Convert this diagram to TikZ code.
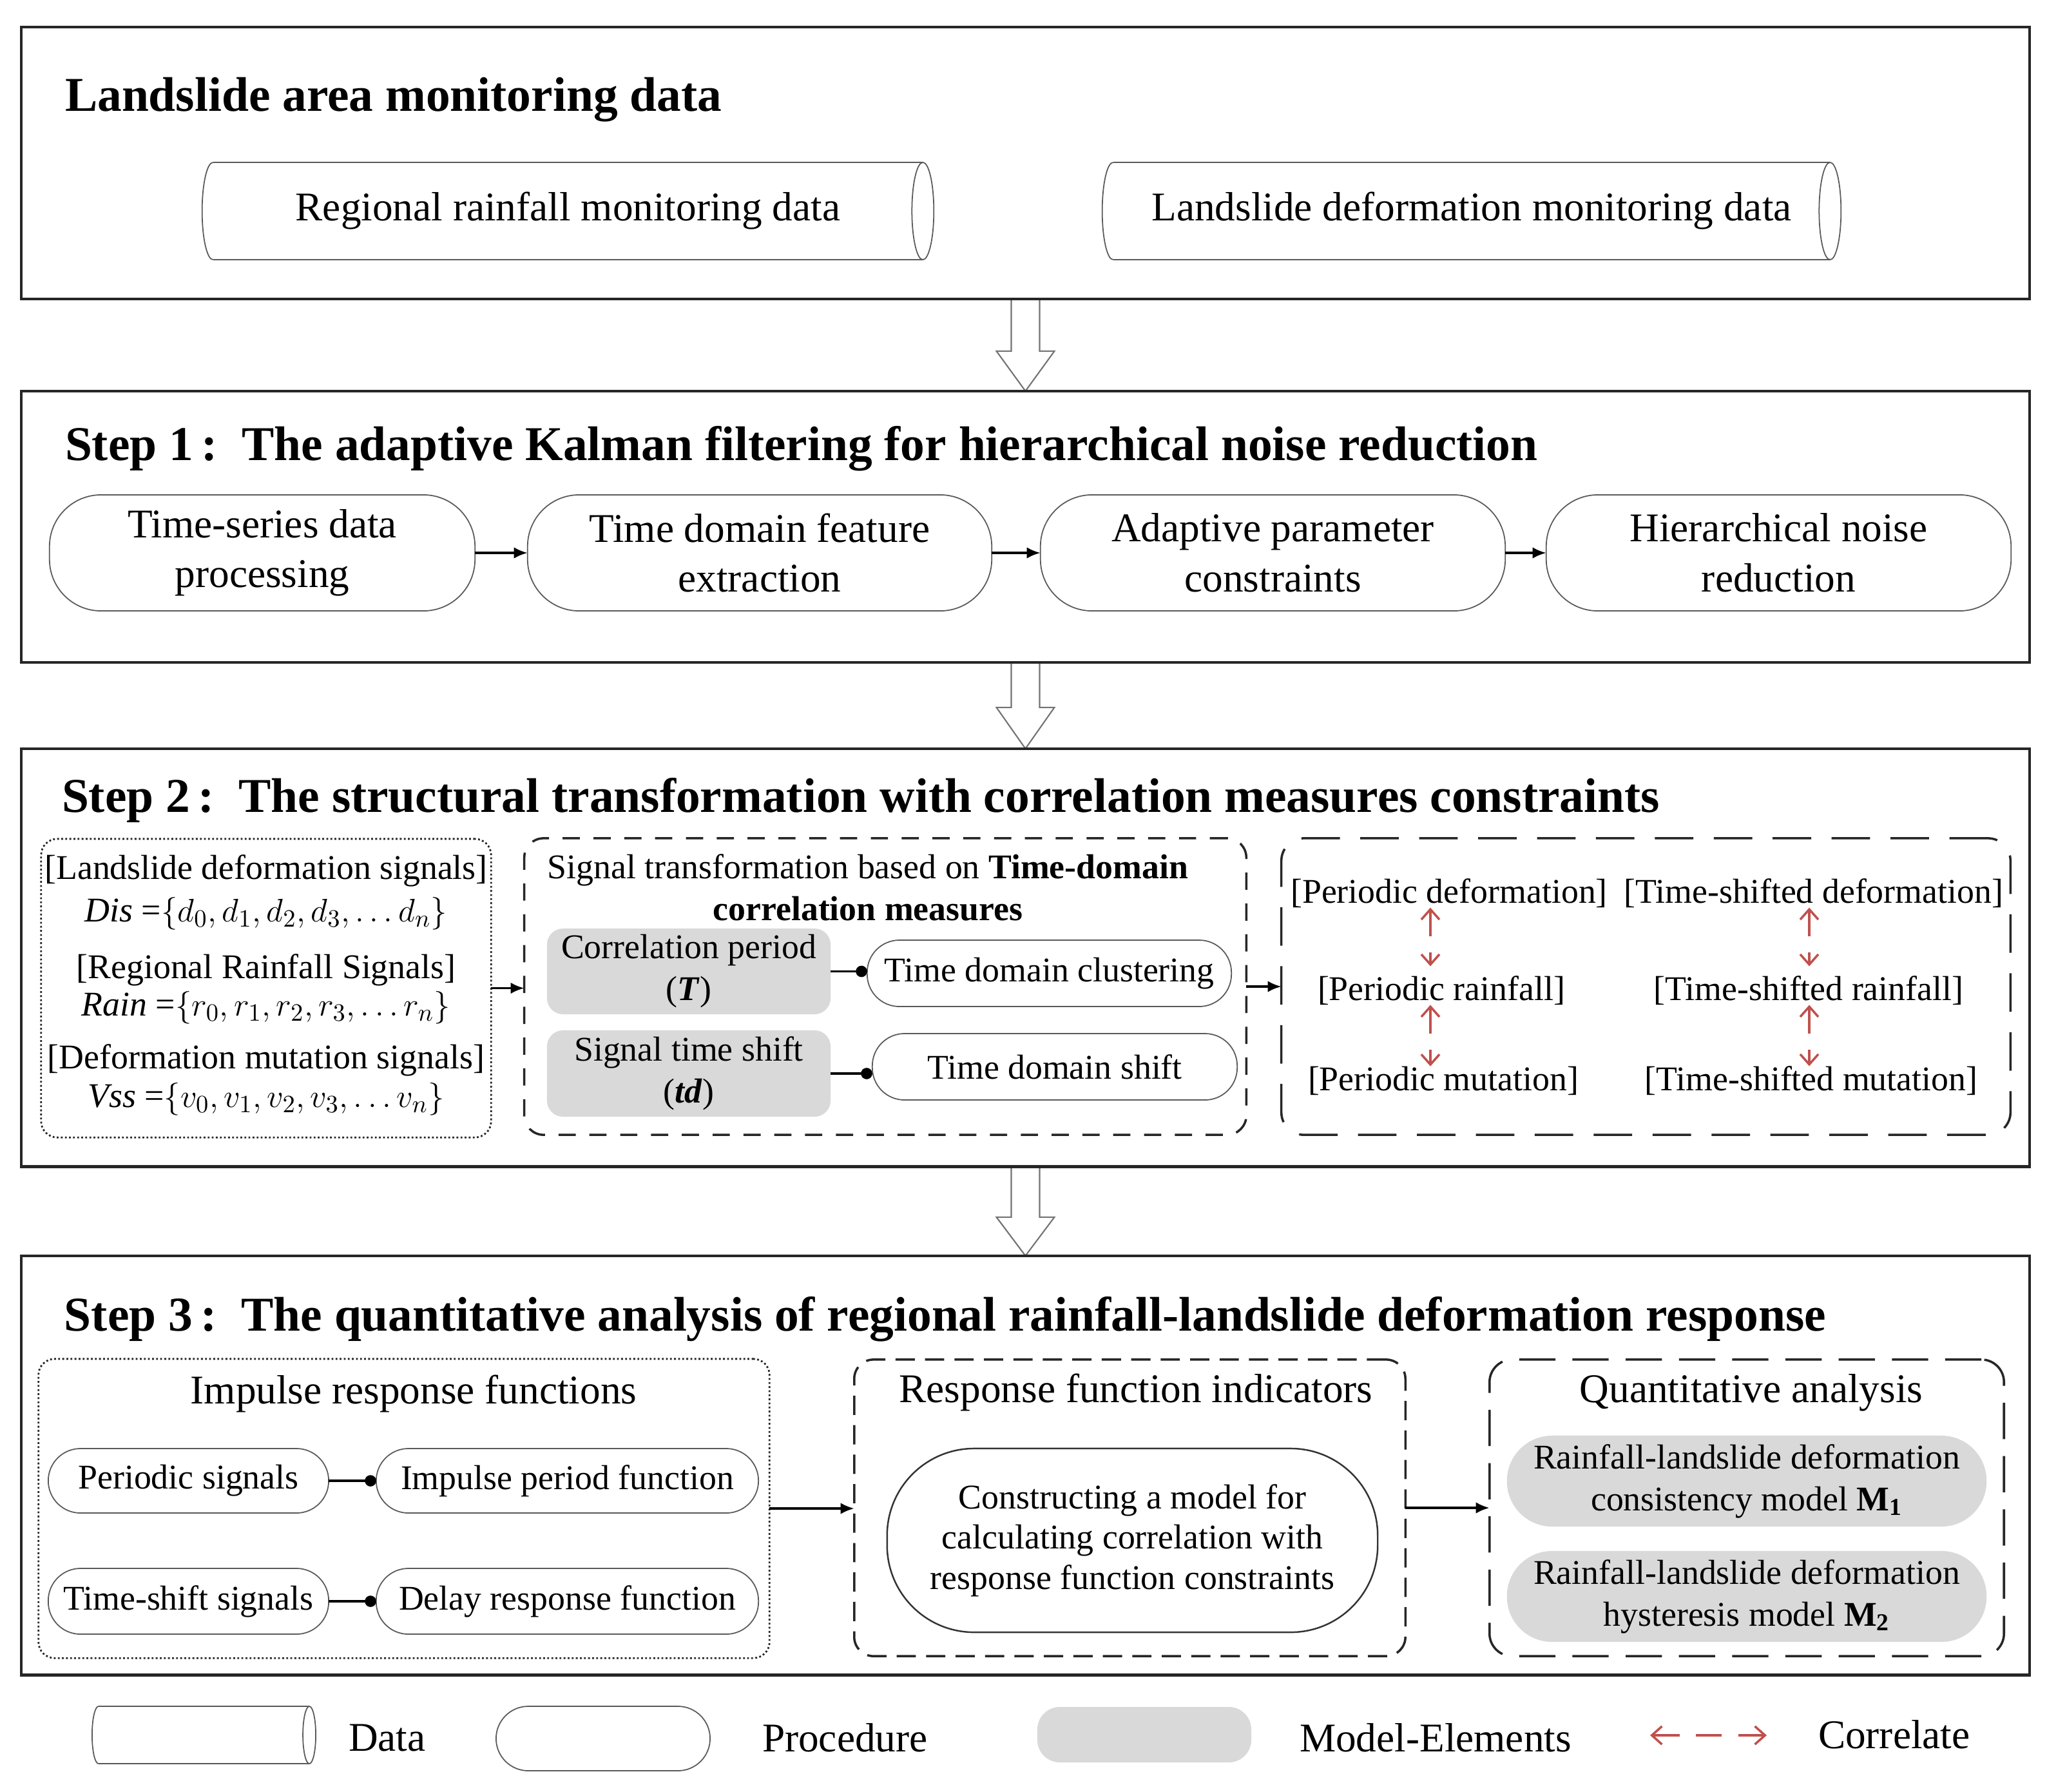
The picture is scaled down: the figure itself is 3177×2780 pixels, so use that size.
\documentclass[tikz,border=0pt]{standalone}
\usepackage{fontspec}
\setmainfont{Liberation Serif}
\usetikzlibrary{arrows.meta,calc}
\definecolor{mgray}{HTML}{D9D9D9}
\definecolor{cred}{HTML}{C0504D}
\pgfdeclarelayer{bg}
\pgfsetlayers{bg,main}
\newcommand\cyldeco[3]{%
  \draw[cyl] ([xshift=#2]#1.north west) -- ([xshift=-#2]#1.north east)
             ([xshift=#2]#1.south west) -- ([xshift=-#2]#1.south east);
  \draw[cyl] ([xshift=#2]#1.north west) arc[start angle=90,end angle=270,x radius=#2,y radius=#3];
  \draw[cyl] ([xshift=-#2]#1.east) ellipse[x radius=#2,y radius=#3];
}
\begin{document}
\begin{tikzpicture}[x=0.01cm,y=-0.01cm,
  every node/.style={inner sep=0pt,outer sep=0pt},
  bigbox/.style={draw=black!85,line width=1.3pt},
  ttl/.style={anchor=west,font=\fontsize{21.45}{25}\selectfont\bfseries},
  txt/.style={font=\fontsize{18}{22}\selectfont,align=center},
  stxt/.style={font=\fontsize{15.3}{18.5}\selectfont,align=center},
  proc/.style={draw=black!65,line width=0.5pt,rounded corners=#1},
  proc/.default=0.5cm,
  model/.style={fill=mgray,rounded corners=#1},
  model/.default=0.25cm,
  dotbox/.style={draw=black!85,line width=0.8pt,dash pattern=on 0.8pt off 1pt,rounded corners=0.25cm},
  dashA/.style={draw=black!85,line width=1pt,dash pattern=on 7.6pt off 6pt,rounded corners=0.3cm},
  dashB/.style={draw=black!85,line width=1pt,dash pattern=on 17pt off 9pt,rounded corners=0.35cm},
  arr/.style={-{Latex[length=6pt,width=5pt]},line width=1pt},
  dotc/.style={-{Circle[length=5pt]},line width=1pt},
  corr/.style={cred,line width=1pt,{Straight Barb[length=4.5pt,width=8pt]}-{Straight Barb[length=4.5pt,width=8pt]}},
  hollow/.style={draw=black!55,line width=0.6pt,fill=white},
  cyl/.style={draw=black!65,line width=0.5pt}
]
\useasboundingbox (0,0) rectangle (3177,2780);

% ---------- big boxes ----------
\node[bigbox,minimum width=31.15cm,minimum height=4.22cm] (box0) at (1591.5,253) {};
\node[bigbox,minimum width=31.15cm,minimum height=4.21cm] (box1) at (1591.5,817.5) {};
\node[bigbox,minimum width=31.15cm,minimum height=6.48cm] (box2) at (1591.5,1486) {};
\node[bigbox,minimum width=31.15cm,minimum height=6.50cm] (box3) at (1591.5,2274) {};

% hollow arrows
\begin{pgfonlayer}{bg}
\draw[hollow] ($(box0.south)+(-22,0)$) -- ($(box1.north)+(-22,-62)$) -- ($(box1.north)+(-45,-62)$) -- (box1.north)
  -- ($(box1.north)+(45,-62)$) -- ($(box1.north)+(22,-62)$) -- ($(box0.south)+(22,0)$);
\draw[hollow] ($(box1.south)+(-22,0)$) -- ($(box2.north)+(-22,-64)$) -- ($(box2.north)+(-45,-64)$) -- (box2.north)
  -- ($(box2.north)+(45,-64)$) -- ($(box2.north)+(22,-64)$) -- ($(box1.south)+(22,0)$);
\draw[hollow] ($(box2.south)+(-22,0)$) -- ($(box3.north)+(-22,-60)$) -- ($(box3.north)+(-45,-60)$) -- (box3.north)
  -- ($(box3.north)+(45,-60)$) -- ($(box3.north)+(22,-60)$) -- ($(box2.south)+(22,0)$);
\end{pgfonlayer}

% ---------- box 0 ----------
\node[ttl] (t0) at (101,155) {Landslide area monitoring data};
\node[txt,minimum width=11.35cm,minimum height=1.51cm] (cyl1) at (881.5,327.5) {Regional rainfall monitoring data};
\cyldeco{cyl1}{0.17cm}{0.755cm}
\node[txt,minimum width=11.46cm,minimum height=1.51cm] (cyl2) at (2284,327.5) {Landslide deformation monitoring data};
\cyldeco{cyl2}{0.17cm}{0.755cm}

% ---------- box 1 ----------
\node[ttl] (t1) at (101,696) {Step 1\,:\enspace The adaptive Kalman filtering for hierarchical noise reduction};
\node[txt,proc=0.8cm,minimum width=6.6cm,minimum height=1.8cm] (p1) at (407,858) {Time-series data\\processing};
\node[txt,proc=0.8cm,minimum width=7.2cm,minimum height=1.8cm] (p2) at (1179,858) {Time domain feature\\extraction};
\node[txt,proc=0.8cm,minimum width=7.21cm,minimum height=1.8cm] (p3) at (1975.5,858) {Adaptive parameter\\constraints};
\node[txt,proc=0.8cm,minimum width=7.21cm,minimum height=1.8cm] (p4) at (2760.5,858) {Hierarchical noise\\reduction};
\draw[arr] (p1) -- (p2);
\draw[arr] (p2) -- (p3);
\draw[arr] (p3) -- (p4);

% ---------- box 2 ----------
\node[ttl] (t2) at (96,1242) {Step 2\,:\enspace The structural transformation with correlation measures constraints};

\node[dotbox,minimum width=6.98cm,minimum height=4.63cm] (sig) at (413,1533.5) {};
\node[stxt] (s1) at (413,1351) {[Landslide deformation signals]};
\node[stxt] (s2) at (413,1418) {$\mathit{Dis}$ =$\{d_0, d_1, d_2, d_3, \ldots d_n\}$};
\node[stxt] (s3) at (413,1505) {[Regional Rainfall Signals]};
\node[stxt] (s4) at (413,1564) {$\mathit{Rain}$ =$\{r_0, r_1, r_2, r_3, \ldots r_n\}$};
\node[stxt] (s5) at (413,1645) {[Deformation mutation signals]};
\node[stxt] (s6) at (413,1706) {$\mathit{Vss}$ =$\{v_0, v_1, v_2, v_3, \ldots v_n\}$};

\node[dashA,minimum width=11.2cm,minimum height=4.6cm] (mid) at (1374,1531) {};
\node[stxt] (midt) at (1347,1377) {Signal transformation based on \textbf{Time-domain}\\\textbf{correlation measures}};
\node[stxt,model,minimum width=4.4cm,minimum height=1.33cm] (gT) at (1069,1507.5) {Correlation period\\(\textbf{\textit{T}})};
\node[stxt,model,minimum width=4.4cm,minimum height=1.34cm] (gtd) at (1069,1666) {Signal time shift\\(\textbf{\textit{td}})};
\node[stxt,proc=0.5cm,minimum width=5.65cm,minimum height=1.03cm] (tdc) at (1628.5,1510.5) {Time domain clustering};
\node[stxt,proc=0.5cm,minimum width=5.66cm,minimum height=1.03cm] (tds) at (1637,1655.5) {Time domain shift};
\draw[dotc] (gT.east) -- (gT.east -| tdc.west);
\draw[dotc] (gtd.east) -- (gtd.east -| tds.west);
\draw[arr] (sig.east) -- (sig.east -| mid.west);

\node[dashB,minimum width=11.31cm,minimum height=4.6cm] (cor) at (2554.5,1531) {};
\draw[arr] (mid.east) -- (cor.west);
\node[stxt] (pd) at (2249,1386) {[Periodic deformation]};
\node[stxt] (tsd) at (2815,1386) {[Time-shifted deformation]};
\node[stxt] (pr) at (2237,1537) {[Periodic rainfall]};
\node[stxt] (tsr) at (2807,1537) {[Time-shifted rainfall]};
\node[stxt] (pm) at (2240,1677) {[Periodic mutation]};
\node[stxt] (tsm) at (2811,1677) {[Time-shifted mutation]};
\coordinate (cx1) at (2220,1500);
\coordinate (cx2) at (2808,1500);
\draw[corr,dash pattern=on 0.4cm off 0.25cm] (cx1 |- pd.south) -- ([yshift=0.15cm]cx1 |- pr.north);
\draw[corr,dash pattern=on 0.4cm off 0.25cm] (cx1 |- pr.south) -- (cx1 |- pm.north);
\draw[corr,dash pattern=on 0.4cm off 0.25cm] (cx2 |- tsd.south) -- ([yshift=0.15cm]cx2 |- tsr.north);
\draw[corr,dash pattern=on 0.4cm off 0.25cm] (cx2 |- tsr.south) -- (cx2 |- tsm.north);

% ---------- box 3 ----------
\node[ttl] (t3) at (100,2047) {Step 3\,:\enspace The quantitative analysis of regional rainfall-landslide deformation response};

\node[dotbox,minimum width=11.34cm,minimum height=4.64cm] (irf) at (627,2341) {};
\node[txt] (irft) at (642,2163) {Impulse response functions};
\node[stxt,proc=0.5cm,minimum width=4.35cm,minimum height=1.0cm] (ps) at (292.5,2298) {Periodic signals};
\node[stxt,proc=0.5cm,minimum width=5.93cm,minimum height=1.0cm] (ipf) at (880.5,2298) {Impulse period function};
\node[stxt,proc=0.5cm,minimum width=4.35cm,minimum height=1.02cm] (tss) at (292.5,2485) {Time-shift signals};
\node[stxt,proc=0.5cm,minimum width=5.93cm,minimum height=1.02cm] (drf) at (880.5,2485) {Delay response function};
\draw[dotc] (ps) -- (ipf);
\draw[dotc] (tss) -- (drf);

\node[dashA,dash pattern=on 8.5pt off 4.5pt,minimum width=8.55cm,minimum height=4.6cm] (rfi) at (1753.5,2340) {};
\node[txt] (rfit) at (1763,2161) {Response function indicators};
\node[stxt,font=\fontsize{15.3}{17.8}\selectfont,proc=1.35cm,line width=0.7pt,draw=black!80,minimum width=7.61cm,minimum height=2.85cm] (cm) at (1757.5,2390.5)
  {Constructing a model for\\calculating correlation with\\response function constraints};
\draw[arr] (irf.east) -- (irf.east -| rfi.west);

\node[dashB,dash pattern=on 16pt off 7.5pt,minimum width=7.98cm,minimum height=4.6cm] (qa) at (2711,2340) {};
\node[txt] (qat) at (2718,2161) {Quantitative analysis};
\node[stxt,model=0.7cm,minimum width=7.44cm,minimum height=1.41cm] (m1) at (2711,2298.5)
  {Rainfall-landslide deformation\\consistency model \textbf{M\textsubscript{1}}};
\node[stxt,model=0.7cm,minimum width=7.44cm,minimum height=1.41cm] (m2) at (2711,2477.5)
  {Rainfall-landslide deformation\\hysteresis model \textbf{M\textsubscript{2}}};
\draw[arr] (rfi.east) -- (rfi.east -| qa.west);

% ---------- legend ----------
\node[minimum width=3.47cm,minimum height=0.89cm] (lcyl) at (316.5,2692.5) {};
\cyldeco{lcyl}{0.1cm}{0.445cm}
\node[txt,anchor=west] (ldata) at (541,2697) {Data};
\node[proc=0.5cm,minimum width=3.32cm,minimum height=1.0cm] (lproc) at (936,2698) {};
\node[txt,anchor=west] (lproct) at (1183,2697) {Procedure};
\node[model=0.35cm,minimum width=3.32cm,minimum height=0.86cm] (lmod) at (1776,2692) {};
\node[txt,anchor=west] (lmodt) at (2017,2697) {Model-Elements};
\coordinate (la) at (2561,2693);
\coordinate (lb) at (2742,2693);
\draw[corr,dash pattern=on 0.42cm off 0.25cm on 0.4cm off 0.25cm on 2cm] (la) -- (lb);
\node[txt,anchor=west] (lcor) at (2822,2692) {Correlate};
\end{tikzpicture}
\end{document}
